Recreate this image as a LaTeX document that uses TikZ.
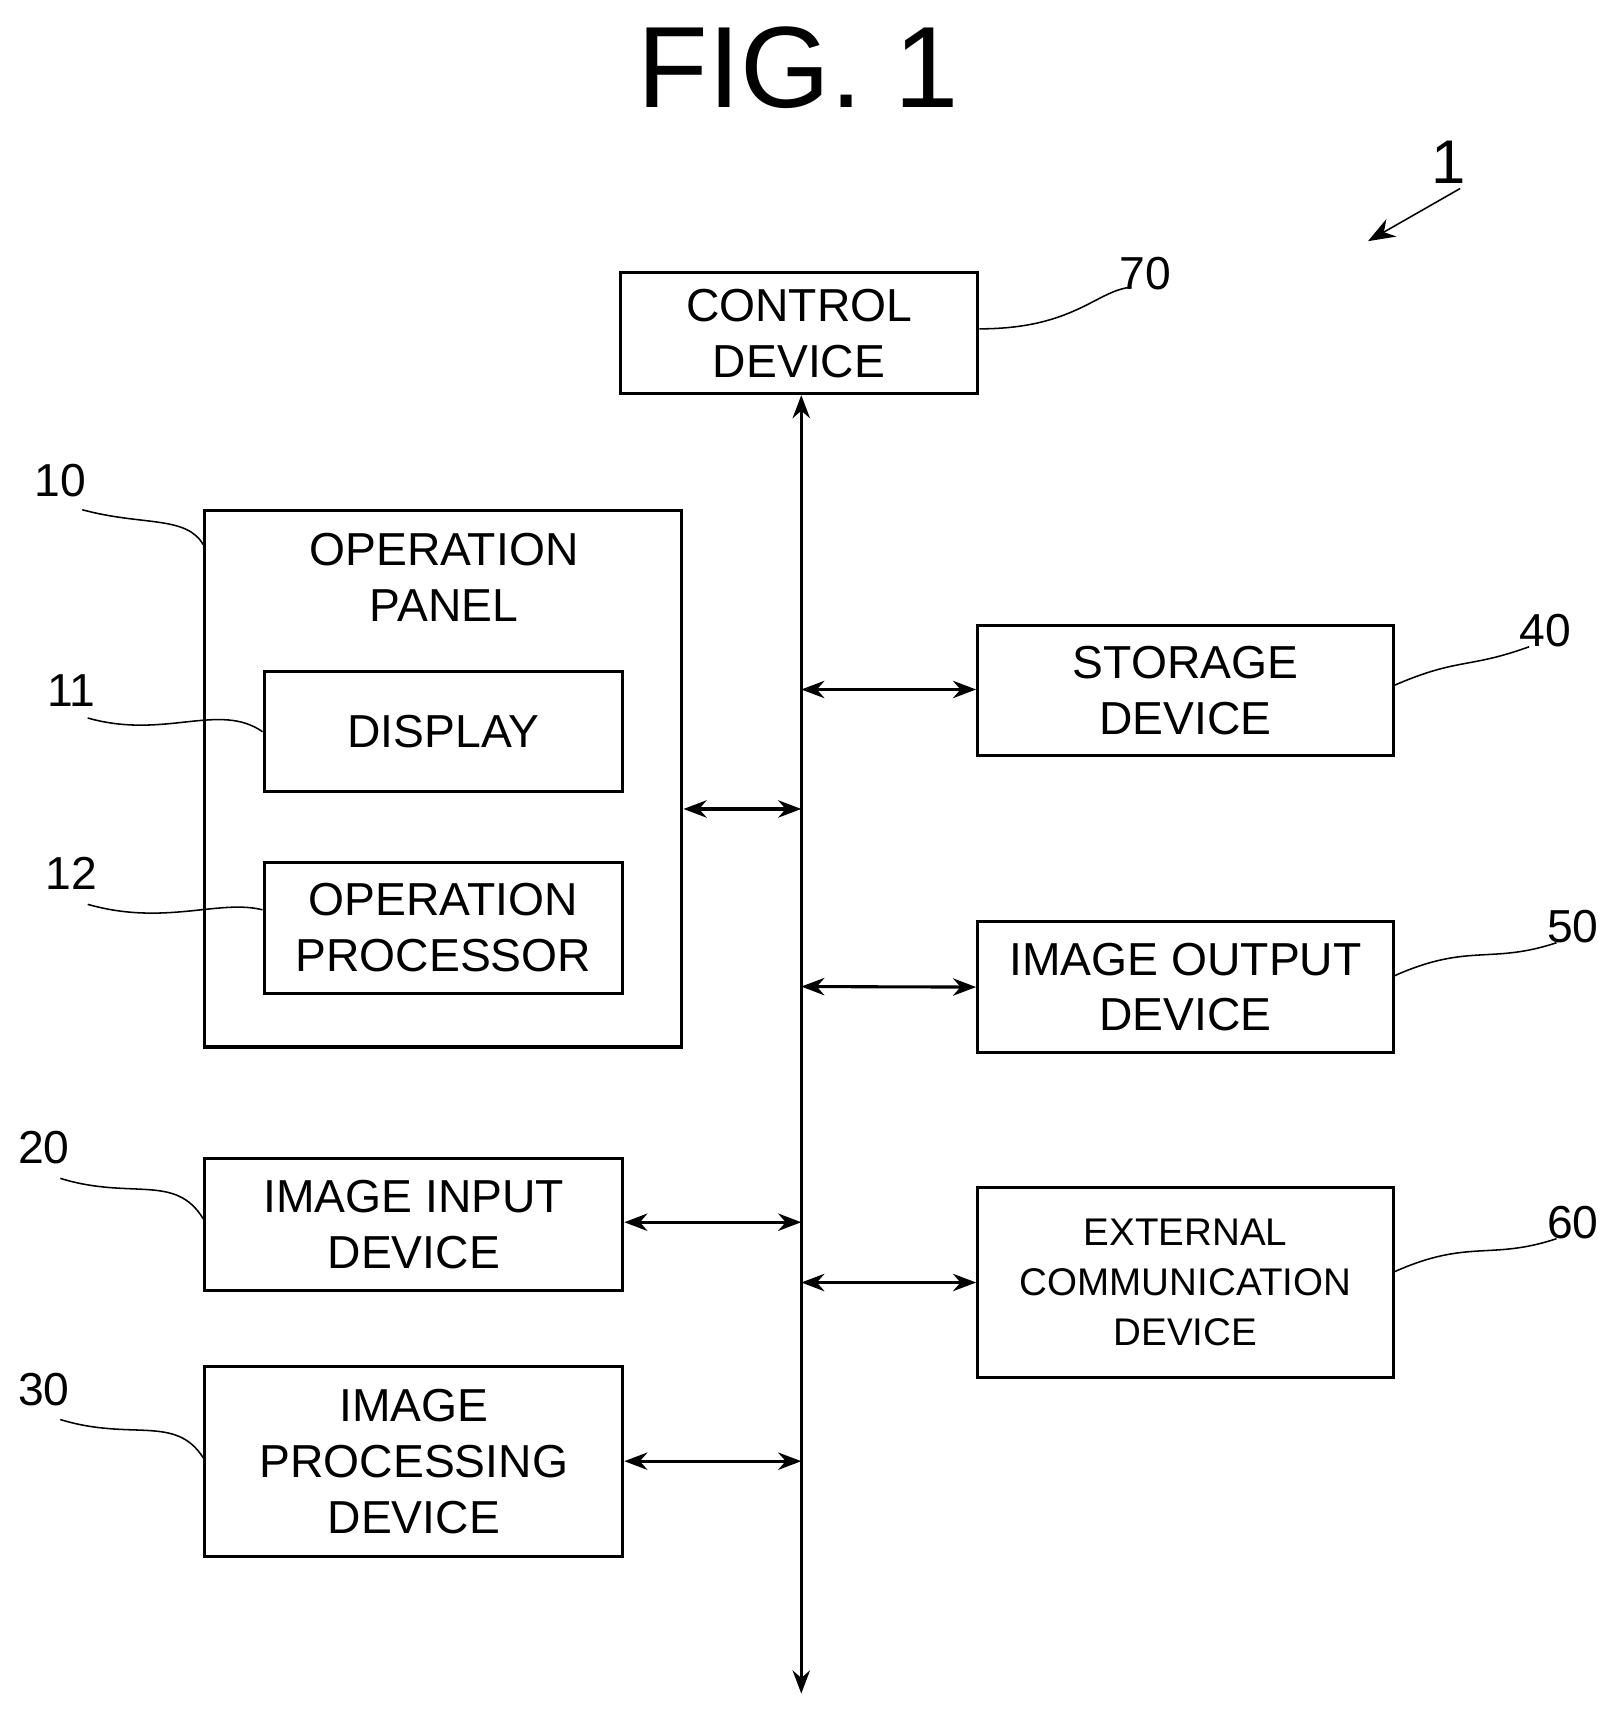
\documentclass[tikz,border=0pt]{standalone}
\usepackage{fontspec}
\setmainfont{Liberation Sans}
\usetikzlibrary{positioning, arrows.meta}

\tikzset{
  box/.style={draw, thick, align=center, font=\fontsize{12}{14.5}\selectfont, inner sep=0pt},
  bus/.style={thick, {Stealth[length=6pt]}-{Stealth[length=6pt]}},
  ref/.style={font=\fontsize{12}{14}\selectfont, inner sep=1pt},
  lead/.style={thin},
}

\begin{document}
\begin{tikzpicture}[x=0.01cm, y=-0.01cm]
 \useasboundingbox (0,0) rectangle (1470,1560);
 \node[font=\fontsize{30}{32}\selectfont] (title) at (728,62) {FIG. 1};

 %boxes
 \node[box, minimum width=3.26cm, minimum height=1.10cm] (ctl) at (729,304) {CONTROL\\DEVICE};
 \node[box, minimum width=4.35cm, minimum height=4.89cm] (panel) at (404.5,710.5) {};
 \node[box, draw=none, anchor=north] (paneltxt) at (405,485) {OPERATION\\PANEL};
 \node[box, minimum width=3.27cm, minimum height=1.09cm] (disp) at (404.5,667.5) {DISPLAY};
 \node[box, minimum width=3.27cm, minimum height=1.19cm] (proc) at (404.5,846.5) {OPERATION\\PROCESSOR};
 \node[box, minimum width=3.81cm, minimum height=1.20cm] (input) at (377.5,1117) {IMAGE INPUT\\DEVICE};
 \node[box, minimum width=3.81cm, minimum height=1.73cm] (imgproc) at (377.5,1333.5) {IMAGE\\PROCESSING\\DEVICE};
 \node[box, minimum width=3.79cm, minimum height=1.18cm] (store) at (1081.5,630) {STORAGE\\DEVICE};
 \node[box, minimum width=3.79cm, minimum height=1.19cm] (output) at (1081.5,900.5) {IMAGE OUTPUT\\DEVICE};
 \node[box, minimum width=3.79cm, minimum height=1.74cm, font=\fontsize{10}{13}\selectfont] (ext) at (1081.5,1170) {EXTERNAL\\COMMUNICATION\\DEVICE};

 %bus
 \coordinate (bottom) at (731,1545);
 \draw[bus] (ctl.south -| bottom) -- (bottom);
 \draw[bus] (panel.east |- 0,738) -- (731,738);
 \draw[bus] (731,629) -- (store.west |- 0,629);
 \draw[bus] (731,900) -- (output.west);
 \draw[bus] (731,1170) -- (ext.west);
 \draw[bus] (input.east |- 0,1115) -- (731,1115);
 \draw[bus] (imgproc.east |- 0,1333) -- (731,1333);

 %reference numerals
 \node[ref] (n70) at (1045,250) {70};
 \node[ref] (n10) at (55,438) {10};
 \node[ref] (n11) at (65,630) {11};
 \node[ref] (n12) at (65,797) {12};
 \node[ref] (n20) at (40,1047) {20};
 \node[ref] (n30) at (40,1268) {30};
 \node[ref] (n40) at (1410,575) {40};
 \node[ref] (n50) at (1435,845) {50};
 \node[ref] (n60) at (1435,1115) {60};
 \node[ref, font=\fontsize{16}{18}\selectfont] (n1) at (1322,148) {1};

 \draw[lead] (ctl.east |- 0,300) .. controls (980,300) and (1000,265) .. (1032,262);
 \draw[lead] (75,465) .. controls (130,480) and (170,470) .. (panel.north west |- 0,497);
 \draw[lead] (80,655) .. controls (150,675) and (200,640) .. (disp.west);
 \draw[lead] (80,825) .. controls (150,845) and (200,820) .. (proc.west |- 0,830);
 \draw[lead] (55,1075) .. controls (120,1095) and (160,1070) .. (input.west |- 0,1112);
 \draw[lead] (55,1295) .. controls (120,1315) and (160,1290) .. (imgproc.west |- 0,1330);
 \draw[lead] (store.east |- 0,625) .. controls (1330,600) and (1340,610) .. (1395,590);
 \draw[lead] (output.east |- 0,890) .. controls (1340,860) and (1360,880) .. (1420,860);
 \draw[lead] (ext.east |- 0,1160) .. controls (1340,1130) and (1360,1150) .. (1420,1130);
 \draw[lead, -{Stealth[length=7pt]}] (1332,172) -- (1248,220);
\end{tikzpicture}
\end{document}
